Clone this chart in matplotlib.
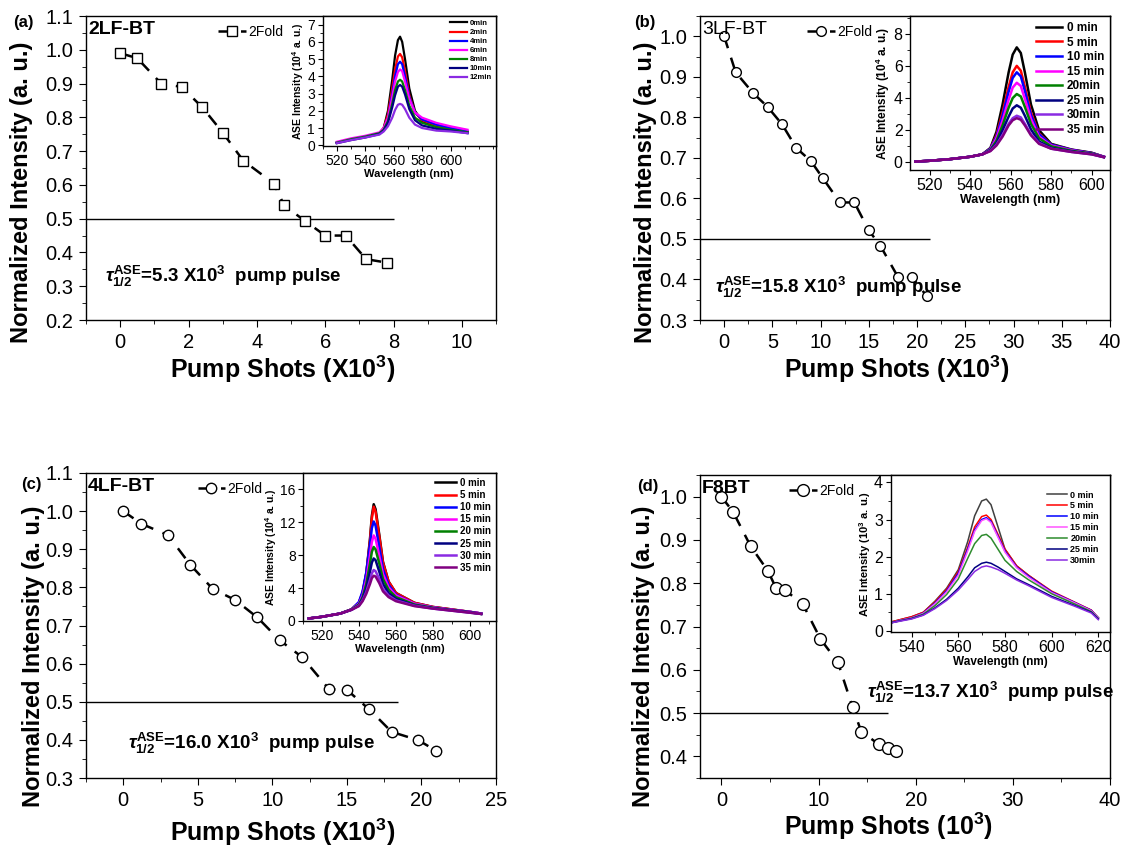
import numpy as np
import matplotlib as mpl
import matplotlib.pyplot as plt

# ---- main decay data (pump shots in 10^3, normalized ASE intensity) ----
shots_a = [0, 0.5, 1.2, 1.8, 2.4, 3.0, 3.6, 4.5, 4.8, 5.4, 6.0, 6.6, 7.2, 7.8]
inten_a = [0.99, 0.975, 0.90, 0.89, 0.83, 0.755, 0.672, 0.604, 0.539, 0.494, 0.45, 0.45, 0.38, 0.37]

shots_b = [0, 1.2, 3.0, 4.5, 6.0, 7.5, 9.0, 10.2, 12.0, 13.5, 15.0, 16.2, 18.0, 19.5, 21.0]
inten_b = [1.0, 0.911, 0.860, 0.826, 0.783, 0.724, 0.692, 0.651, 0.590, 0.590, 0.521, 0.483, 0.407, 0.405, 0.359]

shots_c = [0, 1.2, 3.0, 4.5, 6.0, 7.5, 9.0, 10.5, 12.0, 13.8, 15.0, 16.5, 18.0, 19.8, 21.0]
inten_c = [1.0, 0.967, 0.937, 0.859, 0.796, 0.767, 0.721, 0.661, 0.617, 0.533, 0.531, 0.480, 0.421, 0.399, 0.371]

shots_d = [0, 1.2, 3.0, 4.8, 5.6, 6.5, 8.4, 10.2, 12.0, 13.5, 14.4, 16.2, 17.1, 18.0]
inten_d = [1.0, 0.965, 0.886, 0.828, 0.790, 0.785, 0.751, 0.671, 0.617, 0.514, 0.457, 0.428, 0.419, 0.412]

# ---- inset spectra ----
wl_a = [520, 530, 540, 550, 553, 556, 559, 561, 563, 564.5, 566, 568, 571, 575, 580, 590, 600, 612]
spec_a = {
    "0min":  [0.15, 0.35, 0.5, 0.7, 1.0, 2.0, 3.8, 5.2, 6.1, 6.3, 6.0, 5.0, 3.3, 2.0, 1.4, 1.1, 0.95, 0.75],
    "2min":  [0.15, 0.35, 0.5, 0.7, 1.0, 1.8, 3.3, 4.4, 5.15, 5.3, 5.1, 4.3, 2.9, 1.9, 1.45, 1.15, 1.0, 0.8],
    "4min":  [0.15, 0.35, 0.5, 0.7, 0.95, 1.6, 3.0, 4.0, 4.7, 4.85, 4.7, 4.0, 2.8, 1.9, 1.5, 1.2, 1.0, 0.8],
    "6min":  [0.2, 0.4, 0.55, 0.75, 1.0, 1.6, 2.8, 3.7, 4.25, 4.4, 4.3, 3.7, 2.7, 1.9, 1.6, 1.3, 1.1, 0.9],
    "8min":  [0.15, 0.35, 0.5, 0.7, 0.9, 1.4, 2.4, 3.2, 3.7, 3.8, 3.7, 3.2, 2.3, 1.6, 1.3, 1.05, 0.9, 0.75],
    "10min": [0.12, 0.3, 0.45, 0.65, 0.85, 1.3, 2.2, 2.9, 3.4, 3.5, 3.4, 2.95, 2.1, 1.45, 1.15, 0.95, 0.85, 0.7],
    "12min": [0.12, 0.3, 0.45, 0.62, 0.8, 1.1, 1.6, 2.05, 2.35, 2.4, 2.35, 2.1, 1.6, 1.2, 1.0, 0.85, 0.8, 0.7],
}

wl_b = [513, 520, 530, 540, 546, 550, 553, 556, 559, 561, 563, 565, 567, 570, 574, 580, 590, 600, 606]
spec_b = {
    "0 min":  [0.05, 0.1, 0.2, 0.35, 0.5, 0.9, 1.9, 3.6, 5.6, 6.7, 7.15, 6.8, 5.6, 3.6, 2.0, 1.15, 0.8, 0.6, 0.35],
    "5 min":  [0.05, 0.1, 0.2, 0.35, 0.5, 0.85, 1.7, 3.1, 4.7, 5.6, 6.0, 5.7, 4.7, 3.1, 1.8, 1.1, 0.78, 0.58, 0.35],
    "10 min": [0.05, 0.1, 0.2, 0.35, 0.5, 0.85, 1.6, 2.9, 4.4, 5.25, 5.6, 5.35, 4.45, 2.95, 1.75, 1.1, 0.78, 0.58, 0.35],
    "15 min": [0.05, 0.1, 0.2, 0.35, 0.5, 0.8, 1.5, 2.6, 3.9, 4.65, 4.95, 4.75, 3.95, 2.7, 1.6, 1.05, 0.75, 0.55, 0.35],
    "20min":  [0.05, 0.1, 0.2, 0.35, 0.5, 0.78, 1.35, 2.3, 3.4, 4.0, 4.25, 4.1, 3.45, 2.4, 1.5, 1.0, 0.72, 0.55, 0.33],
    "25 min": [0.05, 0.1, 0.2, 0.35, 0.5, 0.75, 1.2, 2.0, 2.85, 3.35, 3.55, 3.4, 2.9, 2.05, 1.3, 0.9, 0.68, 0.52, 0.33],
    "30min":  [0.05, 0.1, 0.2, 0.35, 0.5, 0.72, 1.1, 1.7, 2.4, 2.75, 2.9, 2.8, 2.4, 1.75, 1.2, 0.85, 0.65, 0.5, 0.32],
    "35 min": [0.05, 0.1, 0.2, 0.35, 0.5, 0.7, 1.05, 1.6, 2.3, 2.62, 2.75, 2.65, 2.3, 1.68, 1.15, 0.85, 0.65, 0.5, 0.32],
}

wl_c = [513, 520, 530, 536, 540, 542, 544, 546, 547, 548, 549, 551, 553, 556, 560, 570, 580, 590, 600, 606]
spec_c = {
    "0 min":  [0.3, 0.5, 0.9, 1.4, 2.2, 3.4, 5.8, 10.0, 12.8, 14.2, 13.6, 10.5, 7.2, 4.8, 3.4, 2.2, 1.7, 1.4, 1.1, 0.9],
    "5 min":  [0.3, 0.5, 0.9, 1.4, 2.2, 3.4, 5.7, 9.8, 12.5, 13.9, 13.3, 10.3, 7.1, 4.8, 3.4, 2.2, 1.7, 1.4, 1.1, 0.9],
    "10 min": [0.3, 0.5, 0.9, 1.4, 2.3, 3.6, 5.9, 9.4, 11.3, 12.1, 11.6, 9.0, 6.3, 4.4, 3.2, 2.1, 1.65, 1.35, 1.1, 0.9],
    "15 min": [0.3, 0.5, 0.9, 1.4, 2.1, 3.1, 5.0, 8.0, 9.6, 10.4, 10.0, 7.9, 5.7, 4.1, 3.1, 2.1, 1.65, 1.35, 1.1, 0.9],
    "20 min": [0.3, 0.5, 0.9, 1.4, 2.0, 2.9, 4.5, 7.0, 8.4, 9.0, 8.7, 7.0, 5.1, 3.8, 2.9, 2.0, 1.6, 1.3, 1.05, 0.85],
    "25 min": [0.3, 0.5, 0.9, 1.35, 1.9, 2.7, 4.0, 6.0, 7.1, 7.6, 7.4, 6.0, 4.5, 3.4, 2.7, 1.9, 1.55, 1.3, 1.05, 0.85],
    "30 min": [0.3, 0.5, 0.9, 1.35, 1.85, 2.5, 3.5, 5.0, 5.8, 6.2, 6.05, 5.1, 3.9, 3.1, 2.5, 1.85, 1.5, 1.25, 1.0, 0.85],
    "35 min": [0.3, 0.5, 0.9, 1.35, 1.8, 2.4, 3.3, 4.5, 5.2, 5.5, 5.4, 4.6, 3.6, 2.9, 2.4, 1.8, 1.5, 1.25, 1.0, 0.85],
}

wl_d = [530, 535, 540, 545, 550, 555, 560, 564, 567, 570, 572, 574, 577, 580, 585, 590, 600, 610, 617, 620]
spec_d = {
    "0 min":  [0.22, 0.3, 0.38, 0.5, 0.8, 1.15, 1.65, 2.4, 3.1, 3.5, 3.55, 3.4, 2.8, 2.2, 1.75, 1.5, 1.05, 0.75, 0.55, 0.35],
    "5 min":  [0.22, 0.3, 0.38, 0.5, 0.78, 1.12, 1.6, 2.25, 2.8, 3.08, 3.12, 3.0, 2.6, 2.2, 1.75, 1.5, 1.07, 0.77, 0.56, 0.35],
    "10 min": [0.2, 0.28, 0.35, 0.48, 0.75, 1.08, 1.55, 2.2, 2.72, 3.0, 3.05, 2.95, 2.55, 2.15, 1.72, 1.48, 1.05, 0.76, 0.55, 0.35],
    "15 min": [0.2, 0.28, 0.35, 0.47, 0.73, 1.05, 1.5, 2.15, 2.68, 2.97, 3.02, 2.92, 2.52, 2.12, 1.7, 1.45, 1.03, 0.75, 0.54, 0.35],
    "20min":  [0.2, 0.27, 0.34, 0.45, 0.68, 0.98, 1.4, 1.95, 2.35, 2.57, 2.6, 2.5, 2.2, 1.9, 1.6, 1.38, 1.0, 0.72, 0.52, 0.33],
    "25 min": [0.2, 0.27, 0.33, 0.43, 0.62, 0.85, 1.15, 1.45, 1.7, 1.82, 1.85, 1.82, 1.72, 1.6, 1.4, 1.25, 0.93, 0.68, 0.5, 0.32],
    "30min":  [0.2, 0.26, 0.32, 0.42, 0.6, 0.82, 1.1, 1.38, 1.6, 1.72, 1.75, 1.72, 1.65, 1.55, 1.37, 1.22, 0.9, 0.66, 0.48, 0.3],
}

COLORS_A = ["black", "red", "blue", "magenta", "green", "navy", "#8a2be2"]
COLORS_8 = ["black", "red", "blue", "magenta", "green", "navy", "#8a2be2", "#800080"]
COLORS_D = ["#404040", "red", "blue", "#ff55ff", "#2e8b2e", "navy", "#8a2be2"]

mpl.rcParams.update({
    "font.family": ["Liberation Sans", "DejaVu Sans"],
    "font.size": 12,
    "mathtext.fontset": "custom",
    "mathtext.rm": "Liberation Sans",
    "mathtext.bf": "Liberation Sans:bold",
    "mathtext.it": "Liberation Sans:italic:bold",
    "axes.linewidth": 1.0,
    "xtick.direction": "out",
    "ytick.direction": "out",
})

fig = plt.figure(figsize=(11.24, 8.48), dpi=100)
W, H = 1124, 848


def px_axes(left, top, right, bottom):
    return fig.add_axes([left / W, 1 - bottom / H, (right - left) / W, (bottom - top) / H])


def main_panel(ax, x, y, marker, ms, xlim, ylim, xmaj, xmin, half_end,
               sample, sample_bold, tau_text, tau_xy, leg_x, xlabel, xlab_pos, ylab_pos):
    ax.plot(x, y, color="black", linestyle=(0, (5, 4)), linewidth=1.8,
            marker=marker, markersize=ms, markerfacecolor="white",
            markeredgecolor="black", markeredgewidth=1.0, label="2Fold", zorder=3)
    ax.hlines(0.5, xlim[0], half_end, color="black", linewidth=1.0, zorder=2)
    ax.set_xlim(*xlim)
    ax.set_ylim(*ylim)
    ax.xaxis.set_major_locator(mpl.ticker.MultipleLocator(xmaj))
    ax.xaxis.set_minor_locator(mpl.ticker.MultipleLocator(xmin))
    ax.yaxis.set_major_locator(mpl.ticker.MultipleLocator(0.1))
    ax.yaxis.set_minor_locator(mpl.ticker.MultipleLocator(0.05))
    ax.yaxis.set_major_formatter(mpl.ticker.FormatStrFormatter("%.1f"))
    ax.tick_params(which="major", length=5, labelsize=14.5, pad=4)
    ax.tick_params(which="minor", length=3)
    ax.set_xlabel(xlabel, fontsize=18, fontweight="bold")
    ax.set_ylabel("Normalized Intensity (a. u.)", fontsize=17, fontweight="bold")
    ax.xaxis.set_label_coords(*xlab_pos)
    ax.yaxis.set_label_coords(*ylab_pos)
    ax.text(0.005, 0.985, sample, transform=ax.transAxes, ha="left", va="top",
            fontsize=14, fontweight="bold" if sample_bold else "normal")
    ax.text(tau_xy[0], tau_xy[1], tau_text, ha="left", va="center",
            fontsize=13.5, fontweight="bold")
    ax.legend(loc="upper left", bbox_to_anchor=(leg_x, 1.0), frameon=False,
              fontsize=10, handlelength=2.0, handletextpad=0.15, borderaxespad=0.25)


def inset_panel(ax, bounds, wl, spec, colors, xlim, ylim, xticks, yticks, ymin,
                ylabel, lw, leg_size, leg_anchor, tick_size, lab_size):
    ins = ax.inset_axes(bounds)
    for (lab, vals), c in zip(spec.items(), colors):
        ins.plot(wl, vals, color=c, linewidth=lw, label=lab)
    ins.set_xlim(*xlim)
    ins.set_ylim(*ylim)
    ins.set_xticks(xticks)
    ins.set_yticks(yticks)
    ins.xaxis.set_minor_locator(mpl.ticker.MultipleLocator(10))
    ins.yaxis.set_minor_locator(mpl.ticker.MultipleLocator(ymin))
    ins.tick_params(which="major", length=3.5, labelsize=tick_size, pad=2)
    ins.tick_params(which="minor", length=2)
    ins.set_xlabel("Wavelength (nm)", fontsize=lab_size, fontweight="bold", labelpad=1)
    ins.set_ylabel(ylabel, fontsize=lab_size - 0.5, fontweight="bold", labelpad=1)
    ins.legend(loc="upper right", bbox_to_anchor=leg_anchor, frameon=False,
               prop={"weight": "bold", "size": leg_size}, handlelength=2.2,
               handletextpad=0.4, labelspacing=0.22, borderaxespad=0.1)
    return ins


tau = r"$\tau^{\mathbf{ASE}}_{\mathbf{1/2}}$"

# (a)
ax_a = px_axes(86, 16, 496, 320)
main_panel(ax_a, shots_a, inten_a, "s", 6.5, (-1, 11), (0.2, 1.1), 2, 1, 8.0,
           "2LF-BT", True, tau + r"=5.3 X10$^{\mathbf{3}}$  pump pulse", (-0.45, 0.33), 0.30,
           r"Pump Shots (X10$^{\mathbf{3}}$)", (0.48, -0.11), (-0.13, 0.42))
inset_panel(ax_a, [0.577, 0.572, 0.423, 0.428], wl_a, spec_a, COLORS_A, (510, 632),
            (-0.05, 7.5), [520, 540, 560, 580, 600], range(0, 8), 0.5,
            r"ASE Intensity (10$^{\mathbf{4}}$ a. u.)", 1.6, 5.5, (1.0, 1.0), 10, 8)

# (b)
ax_b = px_axes(700, 16, 1110, 320)
main_panel(ax_b, shots_b, inten_b, "o", 7, (-2.5, 40), (0.3, 1.05), 5, 2.5, 21.3,
           "3LF-BT", False, tau + r"=15.8 X10$^{\mathbf{3}}$  pump pulse", (-0.9, 0.38), 0.24,
           r"Pump Shots (X10$^{\mathbf{3}}$)", (0.48, -0.11), (-0.105, 0.42))
inset_panel(ax_b, [0.513, 0.492, 0.487, 0.508], wl_b, spec_b, COLORS_8, (510.5, 609),
            (-0.5, 9.1), [520, 540, 560, 580, 600], [0, 2, 4, 6, 8], 1,
            r"ASE Intensity (10$^{\mathbf{4}}$ a. u.)", 1.8, 8.5, (1.0, 1.0), 11.5, 9)

# (c)
ax_c = px_axes(86, 473, 496, 778)
main_panel(ax_c, shots_c, inten_c, "o", 7.5, (-2.5, 25), (0.3, 1.1), 5, 2.5, 18.4,
           "4LF-BT", True, tau + r"=16.0 X10$^{\mathbf{3}}$  pump pulse", (0.3, 0.39), 0.25,
           r"Pump Shots (X10$^{\mathbf{3}}$)", (0.48, -0.128), (-0.10, 0.40))
inset_panel(ax_c, [0.53, 0.515, 0.47, 0.485], wl_c, spec_c, COLORS_8, (510, 614),
            (0, 18), [520, 540, 560, 580, 600], [0, 4, 8, 12, 16], 2,
            r"ASE Intensity (10$^{\mathbf{4}}$ a. u.)", 1.8, 7, (1.0, 1.0), 10, 8)

# (d)
ax_d = px_axes(700, 475, 1110, 778)
main_panel(ax_d, shots_d, inten_d, "o", 8.5, (-2.2, 40), (0.35, 1.05), 10, 5, 17.1,
           "F8BT", True, tau + r"=13.7 X10$^{\mathbf{3}}$  pump pulse", (15.0, 0.548), 0.195,
           r"Pump Shots (10$^{\mathbf{3}}$)", (0.46, -0.106), (-0.11, 0.40))
inset_panel(ax_d, [0.465, 0.482, 0.535, 0.518], wl_d, spec_d, COLORS_D, (531, 625),
            (-0.03, 4.2), [540, 560, 580, 600, 620], [0, 1, 2, 3, 4], 0.5,
            r"ASE Intensity (10$^{\mathbf{3}}$ a. u.)", 1.1, 6.5, (0.97, 0.93), 11.5, 8.5)

for lab, (x, y) in zip(["(a)", "(b)", "(c)", "(d)"],
                       [(23, 22), (645, 22), (31, 485), (648, 487)]):
    fig.text(x / W, 1 - y / H, lab, ha="center", va="center", fontsize=12, fontweight="bold")

fig.savefig("out.png", dpi=100)
